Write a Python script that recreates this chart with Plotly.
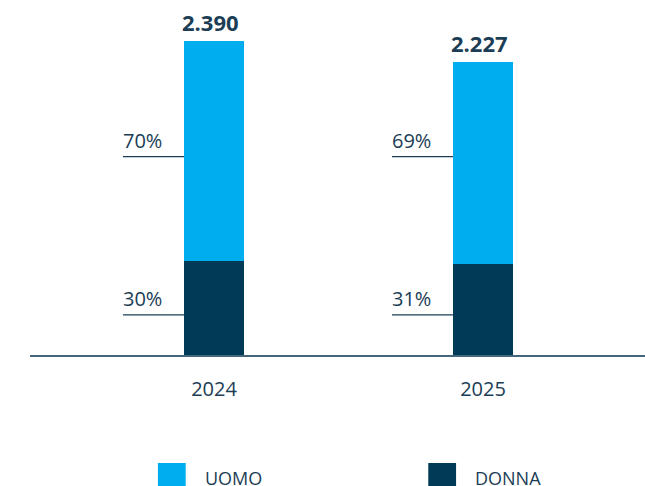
import plotly.graph_objects as go

years = ["2024", "2025"]
totals = [2390, 2227]
uomo_pct = [70, 69]
donna_pct = [30, 31]
series_names = ["UOMO", "DONNA"]
colors = ["#00AEEF", "#003A57"]
text_color = "#1B3D55"
font_family = "Open Sans, Noto Sans, sans-serif"

donna_vals = [t * p / 100 for t, p in zip(totals, donna_pct)]
uomo_vals = [t - d for t, d in zip(totals, donna_vals)]

xs = list(range(len(years)))
bar_w = 0.223

fig = go.Figure()
fig.add_trace(go.Bar(x=xs, y=donna_vals, name=series_names[1], marker_color=colors[1],
                     width=bar_w, marker_line_width=0, showlegend=False))
fig.add_trace(go.Bar(x=xs, y=uomo_vals, name=series_names[0], marker_color=colors[0],
                     width=bar_w, marker_line_width=0, showlegend=False))

annotations = []
shapes = []
# total labels
for x, t in zip(xs, totals):
    annotations.append(dict(x=x - bar_w / 2, y=t, xref="x", yref="y",
                            text="<b>" + f"{t:,}".replace(",", ".") + "</b>",
                            showarrow=False, xanchor="left", yanchor="bottom", xshift=-4, yshift=2,
                            font=dict(size=22, color=text_color, family=font_family)))
# percentage leader labels (fixed heights as in original)
label_levels = [(uomo_pct, 1510), (donna_pct, 305)]
for pcts, lvl in label_levels:
    for x, p in zip(xs, pcts):
        x0 = x - bar_w / 2 - 0.227
        x1 = x - bar_w / 2
        shapes.append(dict(type="line", xref="x", yref="y", x0=x0, x1=x1, y0=lvl, y1=lvl,
                           line=dict(color=text_color, width=1.2)))
        annotations.append(dict(x=x0, y=lvl, xref="x", yref="y", text=f"{p}%", showarrow=False,
                                xanchor="left", yanchor="bottom", xshift=-2, yshift=1,
                                font=dict(size=20, color=text_color, family=font_family)))

# manual legend
legend_items = [(series_names[0], colors[0], 0.208), (series_names[1], colors[1], 0.6476)]
for name, col, px in legend_items:
    shapes.append(dict(type="rect", xref="paper", yref="paper", x0=px, x1=px + 0.0452,
                       y0=-0.40, y1=-0.313, fillcolor=col, line_width=0))
    annotations.append(dict(x=px + 0.0452, y=-0.357, xref="paper", yref="paper", text=name,
                            showarrow=False, xanchor="left", yanchor="middle", xshift=17,
                            font=dict(size=18, color=text_color, family=font_family)))

fig.update_layout(
    barmode="stack",
    width=645, height=486,
    margin=dict(l=30, r=0, t=10, b=131),
    plot_bgcolor="white", paper_bgcolor="white",
    font=dict(family=font_family, color=text_color),
    annotations=annotations,
    shapes=shapes,
    showlegend=False,
    hovermode=False,
    xaxis=dict(range=[-0.684, 1.602], tickmode="array", tickvals=xs, ticktext=years,
               showgrid=False, zeroline=False, showline=True, linecolor="#46667C", linewidth=1.5,
               ticks="outside", ticklen=15, tickcolor="rgba(0,0,0,0)",
               tickfont=dict(size=20, color=text_color, family=font_family)),
    yaxis=dict(range=[0, 2626], visible=False, showgrid=False, zeroline=False),
)

fig.write_html("out.html", config={"displayModeBar": False},
               post_script="document.body.style.margin='0';document.body.style.overflow='hidden';")
